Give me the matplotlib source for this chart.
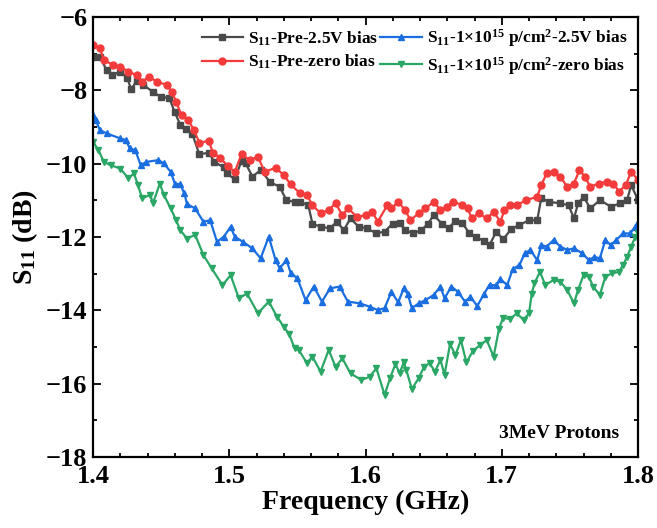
import matplotlib
matplotlib.use('Agg')
import matplotlib.pyplot as plt
from matplotlib.ticker import MultipleLocator

# values (frequency in GHz, S11 in dB)
f_pre_bias = [1.400, 1.405, 1.410, 1.414, 1.420, 1.425, 1.428, 1.432, 1.437, 1.444,
              1.450, 1.456, 1.460, 1.464, 1.468, 1.473, 1.478, 1.485, 1.489, 1.496,
              1.498, 1.504, 1.509, 1.512, 1.517, 1.523, 1.530, 1.537, 1.542, 1.548,
              1.552, 1.558, 1.561, 1.567, 1.574, 1.579, 1.584, 1.589, 1.595, 1.601,
              1.608, 1.614, 1.620, 1.625, 1.629, 1.635, 1.641, 1.646, 1.650, 1.656,
              1.661, 1.666, 1.671, 1.676, 1.681, 1.687, 1.691, 1.696, 1.701, 1.707,
              1.713, 1.720, 1.726, 1.729, 1.735, 1.743, 1.749, 1.753, 1.756, 1.760,
              1.765, 1.772, 1.780, 1.787, 1.792, 1.795, 1.800]
s_pre_bias = [-7.08, -7.08, -7.45, -7.58, -7.49, -7.65, -7.97, -7.74, -7.85, -8.04,
              -8.18, -8.20, -8.60, -8.93, -9.04, -9.20, -9.74, -9.70, -9.95, -10.10,
              -10.26, -10.42, -9.92, -9.99, -10.35, -10.17, -10.50, -10.63, -11.00, -11.04,
              -11.04, -11.13, -11.63, -11.72, -11.76, -11.58, -11.81, -11.49, -11.72, -11.76,
              -11.90, -11.85, -11.63, -11.62, -11.81, -11.90, -11.81, -11.63, -11.40, -11.63,
              -11.75, -11.56, -11.62, -11.88, -12.01, -12.10, -12.22, -11.85, -12.06, -11.78,
              -11.67, -11.54, -11.54, -10.94, -11.04, -11.08, -11.13, -11.49, -11.08, -10.90,
              -11.22, -10.99, -11.17, -11.08, -10.99, -10.58, -10.99]

f_pre_zero = [1.400, 1.405, 1.408, 1.415, 1.420, 1.426, 1.432, 1.436, 1.441, 1.447,
              1.454, 1.458, 1.461, 1.465, 1.470, 1.474, 1.478, 1.485, 1.488, 1.493,
              1.499, 1.504, 1.509, 1.515, 1.521, 1.526, 1.534, 1.540, 1.545, 1.552,
              1.557, 1.561, 1.567, 1.573, 1.578, 1.583, 1.587, 1.594, 1.600, 1.605,
              1.609, 1.616, 1.619, 1.624, 1.629, 1.633, 1.639, 1.644, 1.650, 1.655,
              1.660, 1.664, 1.671, 1.675, 1.678, 1.683, 1.689, 1.694, 1.699, 1.702,
              1.706, 1.711, 1.718, 1.726, 1.729, 1.733, 1.738, 1.743, 1.748, 1.753,
              1.757, 1.761, 1.765, 1.771, 1.777, 1.782, 1.786, 1.791, 1.795, 1.800]
s_pre_zero = [-6.76, -6.85, -7.17, -7.31, -7.35, -7.49, -7.58, -7.76, -7.63, -7.76,
              -7.85, -8.04, -8.31, -8.68, -8.81, -9.08, -9.42, -9.38, -9.70, -9.83,
              -10.06, -10.22, -9.74, -9.90, -9.81, -10.22, -10.11, -10.31, -10.56, -10.81,
              -10.85, -11.13, -11.35, -11.26, -11.08, -11.40, -11.22, -11.45, -11.40, -11.31,
              -11.58, -11.13, -11.22, -11.04, -11.26, -11.54, -11.35, -11.22, -11.04, -11.26,
              -11.17, -11.03, -11.13, -11.22, -11.49, -11.35, -11.49, -11.31, -11.58, -11.26,
              -11.13, -11.13, -10.99, -10.90, -10.58, -10.26, -10.22, -10.35, -10.63, -10.54,
              -10.17, -10.35, -10.63, -10.54, -10.49, -10.54, -10.76, -10.58, -10.22, -10.44]

f_irr_bias = [1.400, 1.402, 1.405, 1.410, 1.420, 1.424, 1.427, 1.431, 1.435, 1.439,
              1.448, 1.452, 1.457, 1.460, 1.464, 1.467, 1.469, 1.475, 1.481, 1.486,
              1.491, 1.496, 1.501, 1.504, 1.510, 1.517, 1.523, 1.529, 1.534, 1.537,
              1.542, 1.545, 1.550, 1.556, 1.562, 1.568, 1.574, 1.581, 1.587, 1.596,
              1.603, 1.609, 1.614, 1.619, 1.624, 1.628, 1.631, 1.634, 1.639, 1.644,
              1.650, 1.655, 1.658, 1.663, 1.668, 1.673, 1.677, 1.682, 1.687, 1.691,
              1.696, 1.699, 1.704, 1.708, 1.713, 1.717, 1.721, 1.726, 1.729, 1.733,
              1.738, 1.743, 1.748, 1.753, 1.759, 1.764, 1.768, 1.772, 1.776, 1.780,
              1.784, 1.789, 1.794, 1.798, 1.800]
s_irr_bias = [-8.67, -8.81, -9.08, -9.17, -9.31, -9.35, -9.58, -9.63, -10.04, -9.95,
              -9.90, -9.99, -10.22, -10.54, -10.56, -10.81, -11.10, -11.22, -11.58, -11.54,
              -12.13, -11.99, -11.72, -11.99, -12.13, -12.31, -12.58, -11.99, -12.63, -12.85,
              -12.63, -12.97, -13.13, -13.72, -13.35, -13.76, -13.40, -13.35, -13.76, -13.81,
              -13.90, -13.99, -13.94, -13.49, -13.78, -13.40, -13.55, -13.94, -13.81, -13.72,
              -13.58, -13.35, -13.67, -13.35, -13.50, -13.76, -13.63, -13.88, -13.55, -13.30,
              -13.32, -13.15, -13.31, -12.88, -12.76, -12.44, -12.35, -12.63, -12.22, -12.26,
              -12.08, -12.26, -12.35, -12.31, -12.44, -12.63, -12.54, -12.58, -12.08, -12.22,
              -12.08, -11.90, -11.90, -11.72, -11.58]

f_irr_zero = [1.400, 1.404, 1.408, 1.413, 1.420, 1.426, 1.430, 1.433, 1.436, 1.442,
              1.444, 1.449, 1.452, 1.457, 1.461, 1.464, 1.469, 1.475, 1.481, 1.487,
              1.495, 1.501, 1.507, 1.513, 1.521, 1.529, 1.535, 1.540, 1.544, 1.548,
              1.551, 1.557, 1.561, 1.567, 1.573, 1.578, 1.583, 1.589, 1.597, 1.603,
              1.608, 1.614, 1.618, 1.622, 1.625, 1.628, 1.630, 1.634, 1.639, 1.643,
              1.647, 1.651, 1.655, 1.658, 1.662, 1.666, 1.670, 1.674, 1.679, 1.684,
              1.689, 1.694, 1.698, 1.701, 1.706, 1.711, 1.716, 1.720, 1.722, 1.724,
              1.728, 1.732, 1.738, 1.743, 1.748, 1.753, 1.756, 1.760, 1.764, 1.767,
              1.772, 1.776, 1.781, 1.786, 1.789, 1.792, 1.795, 1.798, 1.800]
s_irr_zero = [-9.40, -9.63, -9.95, -10.04, -10.13, -10.40, -10.26, -10.58, -10.94, -10.85,
              -11.08, -10.54, -10.85, -11.22, -11.54, -11.81, -12.04, -11.94, -12.49, -12.85,
              -13.31, -13.04, -13.67, -13.54, -14.08, -13.76, -14.17, -14.45, -14.65, -15.04,
              -15.08, -15.44, -15.26, -15.67, -15.08, -15.54, -15.31, -15.72, -15.90, -15.81,
              -15.58, -16.31, -15.85, -15.46, -15.72, -15.42, -15.63, -16.15, -15.85, -15.54,
              -15.44, -15.67, -15.35, -15.76, -14.92, -15.22, -14.81, -15.42, -15.10, -14.95,
              -14.81, -15.26, -14.50, -14.20, -14.24, -14.08, -14.26, -14.08, -13.54, -13.26,
              -12.95, -13.31, -13.17, -13.22, -13.44, -13.81, -13.44, -13.04, -13.08, -13.35,
              -13.58, -13.08, -12.99, -12.95, -12.76, -12.54, -12.26, -11.99, -11.90]

labels = ['S$_{11}$-Pre-2.5V bias',
          'S$_{11}$-Pre-zero bias',
          'S$_{11}$-1\u00d710$^{15}$ p/cm$^{2}$-2.5V bias',
          'S$_{11}$-1\u00d710$^{15}$ p/cm$^{2}$-zero bias']

plt.rcParams['font.family'] = ['Liberation Serif']
plt.rcParams['font.weight'] = 'bold'
plt.rcParams['mathtext.fontset'] = 'custom'
plt.rcParams['mathtext.rm'] = 'Liberation Serif:bold'
plt.rcParams['mathtext.it'] = 'Liberation Serif:bold:italic'
plt.rcParams['mathtext.bf'] = 'Liberation Serif:bold'


def main():
    fig = plt.figure(figsize=(6.57, 5.28), dpi=100)
    ax = fig.add_axes([0.1416, 0.1345, 0.8295, 0.833])

    series = [
        (f_pre_bias, s_pre_bias, '#4a4a4a', 's'),
        (f_pre_zero, s_pre_zero, '#f33b3b', 'o'),
        (f_irr_bias, s_irr_bias, '#1a6ee0', '^'),
        (f_irr_zero, s_irr_zero, '#2aa665', 'v'),
    ]
    for (f, s, c, m), lab in zip(series, labels):
        ax.plot(f, s, color=c, marker=m, markersize=5, lw=1.6, label=lab)

    ax.set_xlim(1.4, 1.8)
    ax.set_ylim(-18, -6)
    ax.xaxis.set_major_locator(MultipleLocator(0.1))
    ax.xaxis.set_minor_locator(MultipleLocator(0.02))
    ax.yaxis.set_major_locator(MultipleLocator(2))
    ax.yaxis.set_minor_locator(MultipleLocator(1))
    ax.tick_params(which='both', direction='in', top=True, right=True, width=1.3)
    ax.tick_params(which='major', length=6, labelsize=19)
    ax.tick_params(which='minor', length=3)
    ax.tick_params(axis='x', which='major', pad=6)
    ax.tick_params(axis='y', which='major', pad=4)
    for sp in ax.spines.values():
        sp.set_linewidth(1.6)

    ax.set_xlabel('Frequency (GHz)', fontsize=20, fontweight='bold', labelpad=1)
    ax.set_ylabel('S$_{11}$ (dB)', fontsize=20, fontweight='bold', labelpad=4)

    ax.legend(loc='upper right', ncol=2, frameon=False, fontsize=12.5,
              handlelength=2.4, columnspacing=0.1, handletextpad=0.3,
              labelspacing=0.3, borderaxespad=0.2, bbox_to_anchor=(1.0, 1.0))

    ax.text(0.965, 0.035, '3MeV Protons', transform=ax.transAxes, ha='right',
            va='bottom', fontsize=14, fontweight='bold')

    fig.savefig('out.png', dpi=100)


if __name__ == '__main__':
    main()
